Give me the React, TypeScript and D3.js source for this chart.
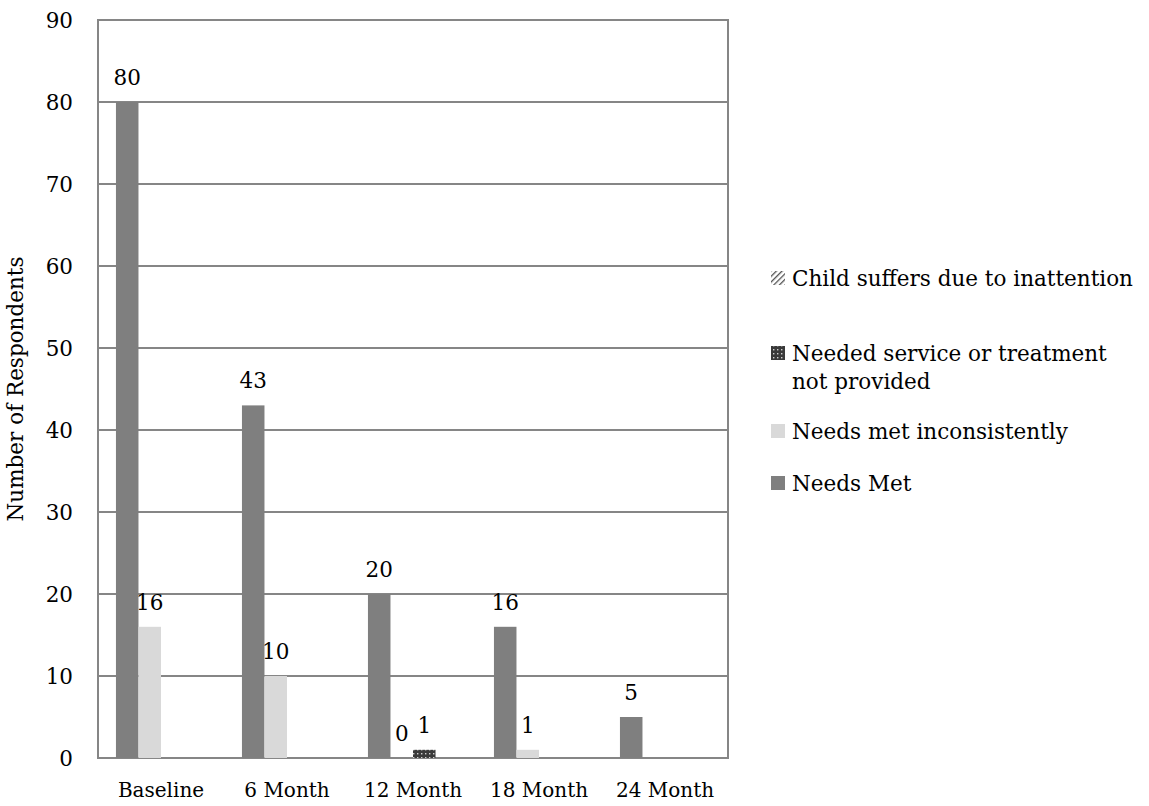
import React from "react";
import * as d3 from "d3";

const categories = ["Baseline", "6 Month", "12 Month", "18 Month", "24 Month"];
const seriesNames = [
  "Needs Met",
  "Needs met inconsistently",
  "Needed service or treatment not provided",
  "Child suffers due to inattention",
];
const needsMet: (number | null)[] = [80, 43, 20, 16, 5];
const needsMetInconsistently: (number | null)[] = [16, 10, 0, 1, null];
const neededServiceNotProvided: (number | null)[] = [null, null, 1, null, null];
const childSuffers: (number | null)[] = [null, null, null, null, null];
const yTicks = [0, 10, 20, 30, 40, 50, 60, 70, 80, 90];

const W = 1149;
const H = 806;
const FONT = "'DejaVu Serif', serif";

export default function App() {
  const left = 98, right = 728, top = 20, bottom = 758;
  const x0 = d3.scaleBand<string>().domain(categories).range([left, right]).paddingInner(0).paddingOuter(0);
  const groupW = x0.bandwidth();
  const barsW = groupW * 0.715;
  const x1 = d3
    .scaleBand<string>()
    .domain(seriesNames)
    .range([(groupW - barsW) / 2, (groupW + barsW) / 2])
    .padding(0);
  const y = d3.scaleLinear().domain([0, 90]).range([bottom, top]);

  const series = [
    { name: seriesNames[0], values: needsMet, fill: "#7f7f7f" },
    { name: seriesNames[1], values: needsMetInconsistently, fill: "#d9d9d9" },
    { name: seriesNames[2], values: neededServiceNotProvided, fill: "url(#checker)" },
    { name: seriesNames[3], values: childSuffers, fill: "url(#hatch)" },
  ];

  const legend = [
    { lines: ["Child suffers due to inattention"], fill: "url(#hatchL)", y: 278 },
    { lines: ["Needed service or treatment", "not provided"], fill: "url(#checker)", y: 353 },
    { lines: ["Needs met inconsistently"], fill: "#d9d9d9", y: 431 },
    { lines: ["Needs Met"], fill: "#7f7f7f", y: 483 },
  ];

  return (
    <svg width={W} height={H} style={{ position: "absolute", left: 0, top: 0, background: "#fff" }}>
      <defs>
        <pattern id="checker" width="4" height="4" patternUnits="userSpaceOnUse">
          <rect width="4" height="4" fill="#3a3a3a" />
          <rect x="1" y="1" width="1.4" height="1.4" fill="#d0d0d0" />
        </pattern>
        <pattern id="hatch" width="4" height="4" patternUnits="userSpaceOnUse" patternTransform="rotate(45)">
          <rect width="4" height="4" fill="#fff" />
          <rect width="1.5" height="4" fill="#404040" />
        </pattern>
        <pattern id="hatchL" width="4" height="4" patternUnits="userSpaceOnUse" patternTransform="rotate(45)">
          <rect width="4" height="4" fill="#fff" />
          <rect width="1.3" height="4" fill="#505050" />
        </pattern>
      </defs>
      {yTicks.map((t) => (
        <line key={t} x1={left} x2={right} y1={y(t)} y2={y(t)} stroke="#868686" strokeWidth={2} />
      ))}
      <rect x={left} y={top} width={right - left} height={bottom - top} fill="none" stroke="#868686" strokeWidth={2} />
      {series.map((s) =>
        s.values.map((v, i) => {
          if (v === null) return null;
          const bx = (x0(categories[i]) as number) + (x1(s.name) as number);
          const bw = x1.bandwidth();
          return (
            <g key={s.name + i}>
              {v > 0 && <rect x={bx} y={y(v)} width={bw} height={y(0) - y(v)} fill={s.fill} />}
              <text x={bx + bw / 2} y={y(v) - 17} textAnchor="middle" fontFamily={FONT} fontSize={21.5} fill="#000">
                {v}
              </text>
            </g>
          );
        })
      )}
      {yTicks.map((t) => (
        <text key={t} x={73} y={y(t)} dy="0.36em" textAnchor="end" fontFamily={FONT} fontSize={21.5} fill="#000">
          {t}
        </text>
      ))}
      {categories.map((c) => (
        <text key={c} x={(x0(c) as number) + groupW / 2} y={797} textAnchor="middle" fontFamily={FONT} fontSize={20} fill="#000">
          {c}
        </text>
      ))}
      <text
        transform={`translate(23,${(top + bottom) / 2}) rotate(-90)`}
        textAnchor="middle"
        fontFamily={FONT}
        fontSize={21.5}
        fill="#000"
      >
        Number of Respondents
      </text>
      {legend.map((l, i) => (
        <g key={i}>
          <rect x={771} y={l.y - 7} width={14} height={14} fill={l.fill} />
          {l.lines.map((ln, j) => (
            <text key={j} x={792} y={l.y + j * 28} dy="0.36em" fontFamily={FONT} fontSize={21.5} fill="#000">
              {ln}
            </text>
          ))}
        </g>
      ))}
    </svg>
  );
}
